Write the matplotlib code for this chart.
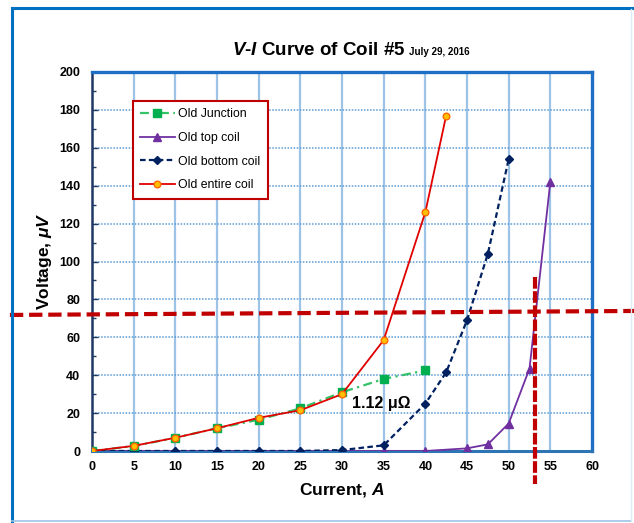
import matplotlib
matplotlib.use("Agg")
import matplotlib.pyplot as plt
from matplotlib.lines import Line2D
from matplotlib.ticker import MultipleLocator

plt.rcParams['font.family'] = ['Liberation Sans', 'DejaVu Sans']
plt.rcParams['mathtext.fontset'] = 'custom'
plt.rcParams['mathtext.it'] = 'Liberation Sans:italic:bold'
plt.rcParams['mathtext.rm'] = 'Liberation Sans:bold'
plt.rcParams['mathtext.bf'] = 'Liberation Sans:bold'

# ---- data ----
junction_I = [0, 5, 10, 15, 20, 25, 30, 35, 40]
junction_V = [0, 2.6, 7, 12, 16.5, 22.5, 31, 38, 42.5]

top_I = [0, 5, 10, 15, 20, 25, 30, 35, 40, 45, 47.5, 50, 52.5, 55]
top_V = [0, 0, 0, 0, 0, 0, 0, 0, 0, 1.4, 3.5, 14.5, 43.5, 142]

bottom_I = [0, 5, 10, 15, 20, 25, 30, 35, 40, 42.5, 45, 47.5, 50]
bottom_V = [0, 0, 0, 0, 0, 0, 0.5, 3, 25, 41.5, 69, 104, 154]

entire_I = [0, 5, 10, 15, 20, 25, 30, 35, 40, 42.5]
entire_V = [0, 2.7, 7, 12, 17.5, 21.5, 30, 58.5, 126, 177]

labels = ["Old Junction", "Old top coil", "Old bottom coil", "Old entire coil"]
x_ticks = list(range(0, 61, 5))
y_ticks = list(range(0, 201, 20))

resistance_text = "1.12 μΩ"
resistance_pos = (34.7, 25.3)

# critical-current marker lines (data coords)
h_line_x = [-9.85, 65.1]
h_line_y = [71.8, 73.9]
v_line_x = [53.2, 53.2]
v_line_y = [92, -17.4]

fig = plt.figure(figsize=(6.34, 5.23), dpi=100)
W, H = 634, 523
ax = fig.add_axes([92 / W, 1 - 451 / H, 500 / W, 379 / H])

# grid
for x in x_ticks[1:-1]:
    ax.axvline(x, color='#9DC3E6', lw=1.6, zorder=1)
for y in y_ticks[1:-1]:
    ax.axhline(y, color='#5B9BD5', lw=1.1, ls=(0, (1, 1)), zorder=1)

l_top, = ax.plot(top_I, top_V, color='#7030A0', lw=1.3, marker='^', ms=5.5,
                 mfc='#7030A0', mec='#7030A0', zorder=3)
l_bot, = ax.plot(bottom_I, bottom_V, color='#002060', lw=1.6, ls=(0, (2.5, 1.5)),
                 marker='D', ms=4.5, mfc='#002060', mec='#002060', zorder=4)
l_jun, = ax.plot(junction_I, junction_V, color='#33C266', lw=1.6, ls=(0, (4, 2, 1, 2)),
                 marker='s', ms=5.5, mfc='#00B050', mec='#00B050', zorder=5)
l_ent, = ax.plot(entire_I, entire_V, color='#E00000', lw=1.3, marker='o', ms=4.8,
                 mfc='#FFC000', mec='#FF6A00', mew=1.0, zorder=6)

ax.set_xlim(0, 60)
ax.set_ylim(0, 200)
ax.set_xticks(x_ticks)
ax.set_yticks(y_ticks)
ax.yaxis.set_minor_locator(MultipleLocator(10))
ax.tick_params(axis='x', length=0, pad=7, labelsize=9)
ax.tick_params(axis='y', which='major', direction='in', length=4, width=1,
               color='#1F3864', pad=8.5, labelsize=9)
ax.tick_params(axis='y', which='minor', direction='in', length=3, width=1, color='#1F3864')
for lab in ax.get_xticklabels() + ax.get_yticklabels():
    lab.set_fontweight('bold')

ax.spines['left'].set_color('#1F3864')
ax.spines['left'].set_linewidth(1.8)
ax.spines['bottom'].set_color('#2E75B6')
ax.spines['bottom'].set_linewidth(2.2)
for s in ('top', 'right'):
    ax.spines[s].set_color('#1F6FC4')
    ax.spines[s].set_linewidth(2.4)

ax.set_xlabel("Current, $\\mathit{A}$", fontsize=12.5, fontweight='bold', labelpad=6)
ax.set_ylabel("Voltage, $\\mathit{μV}$", fontsize=12.5, fontweight='bold', labelpad=3.5)

# title
fig.text(405 / W, 1 - 55 / H, "$\\mathit{V}$-$\\mathit{I}$ Curve of Coil #5",
         fontsize=13.5, fontweight='bold', ha='right', va='baseline')
fig.text(409 / W, 1 - 55 / H, "July 29, 2016", fontsize=7, fontweight='bold',
         ha='left', va='baseline')

ax.text(resistance_pos[0], resistance_pos[1], resistance_text, fontsize=11.5,
        fontweight='bold', ha='center', va='center', zorder=7)

leg = ax.legend([l_jun, l_top, l_bot, l_ent], labels, loc='upper left',
                bbox_to_anchor=(133 / W, 1 - 101 / H), bbox_transform=fig.transFigure,
                borderaxespad=0, fancybox=False, framealpha=1, edgecolor='#C00000',
                fontsize=8.8, handlelength=2.8, handletextpad=0.3,
                labelspacing=0.95, borderpad=0.6)
leg.get_frame().set_linewidth(1.5)
leg.set_zorder(10)

# red annotation dashed lines
ax.add_line(Line2D(h_line_x, h_line_y, color='#C00000', lw=3, ls=(0, (3.2, 1.4)),
                   clip_on=False, zorder=8))
ax.add_line(Line2D(v_line_x, v_line_y, color='#C00000', lw=3, ls=(0, (2.8, 0.6)),
                   clip_on=False, zorder=8))

# figure border
fig.add_artist(Line2D([12 / W, 12 / W], [1 - 8 / H, 1 - 521 / H], color='#0070C0', lw=2.2))
fig.add_artist(Line2D([12 / W, 1], [1 - 8 / H, 1 - 8 / H], color='#0070C0', lw=2.2))
fig.add_artist(Line2D([12 / W, 631 / W], [1 - 521 / H, 1 - 521 / H], color='#9DC3E6', lw=1.2))
fig.add_artist(Line2D([631 / W, 631 / W], [1 - 9 / H, 1 - 521 / H], color='#DDEBF7', lw=1.0))

fig.savefig("out.png", dpi=100)
